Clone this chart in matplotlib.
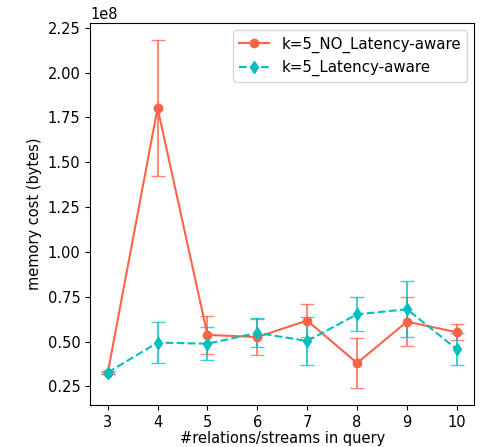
import matplotlib
matplotlib.use("Agg")
import matplotlib.pyplot as plt

x = [3, 4, 5, 6, 7, 8, 9, 10]
no_lat_mean = [0.323e8, 1.803e8, 0.537e8, 0.525e8, 0.617e8, 0.380e8, 0.611e8, 0.552e8]
no_lat_err = [0.006e8, 0.378e8, 0.107e8, 0.100e8, 0.093e8, 0.137e8, 0.137e8, 0.045e8]
lat_mean = [0.327e8, 0.494e8, 0.488e8, 0.548e8, 0.503e8, 0.652e8, 0.680e8, 0.457e8]
lat_err = [0.006e8, 0.113e8, 0.093e8, 0.081e8, 0.134e8, 0.095e8, 0.157e8, 0.089e8]

fig, ax = plt.subplots(figsize=(4.85, 4.47), dpi=100)
red = '#FF6347'
cyan = '#00BFBF'

ax.errorbar(x, no_lat_mean, yerr=no_lat_err, fmt='none', capsize=5, elinewidth=1.5,
            ecolor=(1.0, 0.39, 0.28, 0.75))
ax.errorbar(x, lat_mean, yerr=lat_err, fmt='none', capsize=5, elinewidth=1.5,
            ecolor=(0.0, 0.75, 0.75, 0.75))
ax.plot(x, no_lat_mean, color=red, marker='o', markersize=6, linestyle='-',
        linewidth=1.5, label='k=5_NO_Latency-aware')
ax.plot(x, lat_mean, color=cyan, marker='d', markersize=6, linestyle='--',
        linewidth=1.5, label='k=5_Latency-aware')

fs = 10.5
ax.set_xlabel('#relations/streams in query', fontsize=fs, labelpad=1)
ax.set_ylabel('memory cost (bytes)', fontsize=fs)
ax.tick_params(labelsize=fs)
ax.yaxis.get_offset_text().set_fontsize(fs)
ax.legend(loc='upper right', fontsize=fs + 0.3)
fig.subplots_adjust(left=0.186, right=0.978, top=0.949, bottom=0.094)
fig.savefig('out.png', dpi=100)
